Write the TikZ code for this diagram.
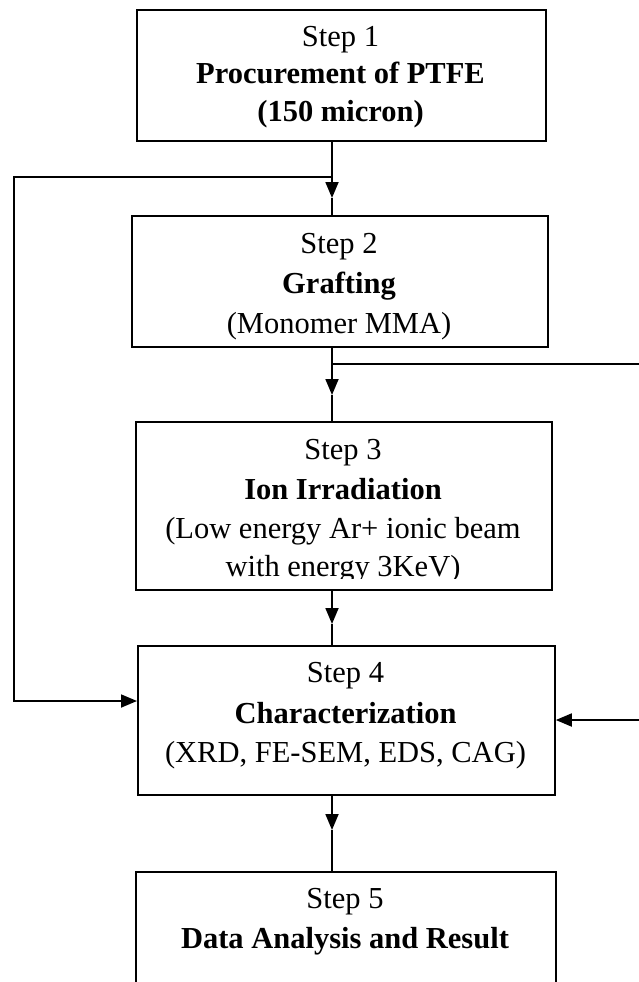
\documentclass[tikz,border=0pt]{standalone}
\usepackage{fontspec}
\setmainfont{Liberation Serif}
\usetikzlibrary{arrows.meta}
\tikzset{
  box/.style={draw=black, line width=1.8pt, rectangle, anchor=north west, inner sep=0pt},
  txt/.style={anchor=base, inner sep=0pt, font=\fontsize{30.5}{36}\selectfont},
  btxt/.style={txt, font=\fontsize{30.5}{36}\selectfont\bfseries},
  conn/.style={draw=black, line width=1.8pt},
  arr/.style={conn, -{Triangle[length=16pt,width=13pt]}}
}
\begin{document}
\begin{tikzpicture}[x=1pt,y=-1pt]
\useasboundingbox (0,0) rectangle (639,982);
\clip (0,0) rectangle (639,982);
\fill[white] (0,0) rectangle (639,982);

% boxes
\node[box, minimum width=409pt, minimum height=131pt] (b1) at (136,9) {};
\node[box, minimum width=416pt, minimum height=131pt] (b2) at (131,215) {};
\node[box, minimum width=416pt, minimum height=168pt] (b3) at (135,421) {};
\node[box, minimum width=417pt, minimum height=149pt] (b4) at (137,645) {};
\node[box, minimum width=420pt, minimum height=160pt] (b5) at (135,871) {};

% texts
\node[txt]  (t1a) at (340.5,47) {Step 1};
\node[btxt] (t1b) at (340.5,84) {Procurement of PTFE};
\node[btxt] (t1c) at (340.5,121) {(150 micron)};

\node[txt]  (t2a) at (339,253) {Step 2};
\node[btxt] (t2b) at (339,293) {Grafting};
\node[txt]  (t2c) at (339,333) {(Monomer MMA)};

\node[txt]  (t3a) at (343,459) {Step 3};
\node[btxt] (t3b) at (343,499) {Ion Irradiation};
\node[txt]  (t3c) at (343,538) {(Low energy Ar+ ionic beam};
\begin{scope}
  \clip (135,547) rectangle (551,578);
  \node[txt] (t3d) at (343,576) {with energy 3KeV)};
\end{scope}

\node[txt]  (t4a) at (345.5,682) {Step 4};
\node[btxt] (t4b) at (345.5,723) {Characterization};
\node[txt]  (t4c) at (345.5,762) {(XRD, FE-SEM, EDS, CAG)};

\node[txt]  (t5a) at (345,908) {Step 5};
\node[btxt] (t5b) at (345,948) {Data Analysis and Result};

% junctions and arrow tips
\coordinate (jc) at (332,177);
\coordinate (jl) at (14,701);
\coordinate (jr) at (332,364);
\coordinate (re) at (650,720);
\coordinate (a1) at (332,198);
\coordinate (a2) at (332,395);
\coordinate (a3) at (332,624);
\coordinate (a4) at (332,830);

% connectors
\draw[conn] (b1.south -| jc) -- (jc);
\draw[arr]  (jc) -- (a1);
\draw[conn] (a1) -- (b2.north -| jc);

\draw[conn] (b2.south -| jr) -- (jr);
\draw[arr]  (jr) -- (a2);
\draw[conn] (a2) -- (b3.north -| jr);

\draw[arr]  (b3.south -| a3) -- (a3);
\draw[conn] (a3) -- (b4.north -| a3);

\draw[arr]  (b4.south -| a4) -- (a4);
\draw[conn] (a4) -- (b5.north -| a4);

% left feedback
\draw[arr] (jc) -- (jc -| jl) -- (jl) -- (jl -| b4.west);
% right feedback
\draw[arr] (jr) -- (jr -| re) -- (re) -- (re -| b4.east);
\end{tikzpicture}
\end{document}
